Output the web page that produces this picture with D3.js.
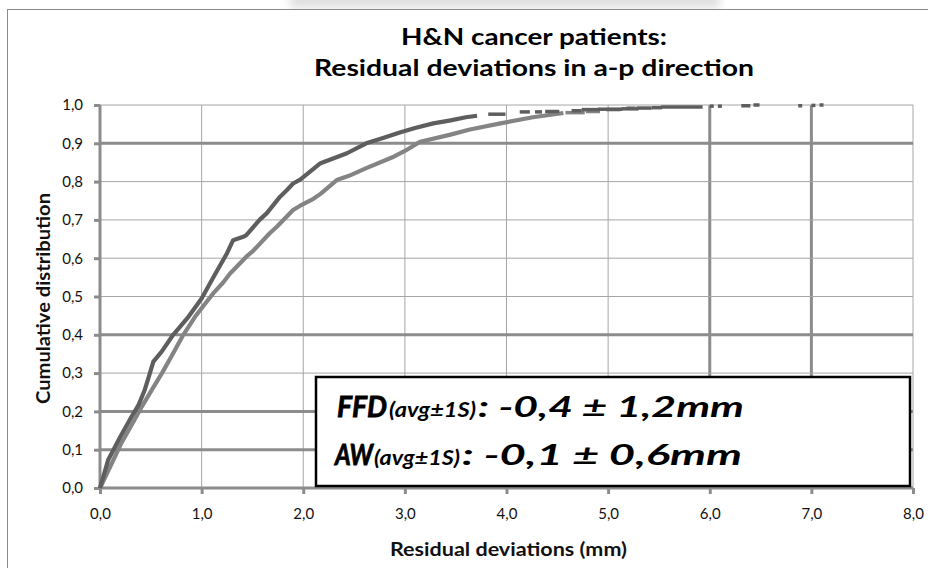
<!DOCTYPE html>
<html>
<head>
<meta charset="utf-8">
<script src="https://cdn.jsdelivr.net/npm/d3@7"></script>
<style>
  html, body { margin: 0; padding: 0; background: #fff; }
  svg { display: block; }
  text { font-family: Lato, "Open Sans", sans-serif; }
</style>
</head>
<body>
<svg id="chart" width="928" height="568"></svg>
<script>
// Cumulative distributions of residual deviations (mm), a-p direction.
// Lighter curve: FFD set-up; darker curve: AW set-up.
const ffdDev = [0, 0.115, 0.21, 0.34, 0.41, 0.51, 0.61, 0.72, 0.82, 0.935, 1.03, 1.12, 1.21, 1.28, 1.44, 1.51,
  1.67, 1.74, 1.9, 1.97, 2.1, 2.17, 2.33, 2.45, 2.62, 2.89, 3.0, 3.15, 3.44, 3.64, 3.94, 4.26, 4.56];
const ffdCum = [0, 0.064, 0.117, 0.178, 0.212, 0.256, 0.30, 0.352, 0.40, 0.447, 0.48, 0.51, 0.536, 0.56, 0.604, 0.62,
  0.665, 0.682, 0.726, 0.737, 0.755, 0.768, 0.804, 0.815, 0.835, 0.865, 0.88, 0.904, 0.922, 0.936, 0.952, 0.968, 0.979];
// sparse tail of the FFD curve: [from, to, cumulative]
const ffdTail = [[4.6, 4.75, 0.98], [4.8, 4.9, 0.983], [5.0, 5.1, 0.988], [5.2, 5.25, 0.992]];

const awDev = [0, 0.08, 0.2, 0.31, 0.38, 0.44, 0.48, 0.525, 0.607, 0.72, 0.87, 1.0, 1.12, 1.25, 1.31, 1.41, 1.44,
  1.57, 1.64, 1.77, 1.84, 1.9, 1.97, 2.17, 2.43, 2.62, 2.8, 2.95, 3.1, 3.28, 3.45, 3.6, 3.71];
const awCum = [0, 0.073, 0.134, 0.186, 0.217, 0.256, 0.29, 0.33, 0.356, 0.40, 0.447, 0.495, 0.552, 0.613, 0.647, 0.656, 0.66,
  0.70, 0.717, 0.76, 0.778, 0.795, 0.805, 0.848, 0.874, 0.90, 0.915, 0.928, 0.94, 0.952, 0.96, 0.968, 0.972];
const awTail = [[3.84, 3.97, 0.976], [4.15, 4.21, 0.982], [4.3, 4.33, 0.982], [4.4, 4.5, 0.983], [4.66, 4.72, 0.985],
  [4.76, 4.9, 0.988], [4.92, 5.12, 0.989], [5.15, 5.28, 0.99], [5.3, 5.41, 0.992], [5.45, 5.51, 0.993],
  [5.54, 5.91, 0.995], [6.02, 6.02, 0.997], [6.1, 6.1, 0.997], [6.33, 6.38, 0.998], [6.45, 6.47, 1.0],
  [6.89, 6.89, 0.998], [7.02, 7.02, 0.999], [7.1, 7.1, 1.0]];

const xTickValues = [0, 1, 2, 3, 4, 5, 6, 7, 8];
const yTickValues = [0, 0.1, 0.2, 0.3, 0.4, 0.5, 0.6, 0.7, 0.8, 0.9, 1.0];
const xHeavyGrid = [6, 7];
const yHeavyGrid = [0.1, 0.2, 0.4, 0.9];

const titleLines = ["H&N cancer patients:", "Residual deviations in a-p direction"];
const xTitle = "Residual deviations (mm)";
const yTitle = "Cumulative distribution";
const statNames = ["FFD", "AW"];
const statSubs = ["(avg±1S)", "(avg±1S)"];
const statValues = [" : -0,4 ± 1,2mm", " : -0,1 ± 0,6mm"];

const svg = d3.select("#chart");
const fmt = d3.formatLocale({ decimal: ",", thousands: ".", grouping: [3], currency: ["", ""] }).format(".1f");

const x = d3.scaleLinear().domain([0, 8]).range([100, 913]);
const y = d3.scaleLinear().domain([0, 1]).range([488, 105]);

// wide, slightly stretched lettering as in the slide template
function stretched(sel, width) {
  return sel.attr("textLength", width).attr("lengthAdjust", "spacingAndGlyphs");
}

// faint backdrop bleeding in at the very top
const defs = svg.append("defs");
defs.append("filter").attr("id", "haze").append("feGaussianBlur").attr("stdDeviation", 4);
svg.append("rect").attr("x", 290).attr("y", -10).attr("width", 430).attr("height", 18)
  .attr("fill", "#e0e0e0").attr("filter", "url(#haze)");
svg.append("rect").attr("x", 8).attr("y", 9).attr("width", 940).attr("height", 580)
  .attr("fill", "#fff");

// outer chart frame
svg.append("rect").attr("x", 7.5).attr("y", 9.5).attr("width", 940).attr("height", 580)
  .attr("fill", "none").attr("stroke", "#8a8a8a").attr("stroke-width", 1);

// gridlines
const grid = svg.append("g");
grid.selectAll("line.gx").data(xTickValues.filter(d => d > 0)).join("line")
  .attr("x1", d => x(d)).attr("x2", d => x(d)).attr("y1", y(1)).attr("y2", y(0))
  .attr("stroke", d => xHeavyGrid.includes(d) ? "#8c8c8c" : "#a6a6a6")
  .attr("stroke-width", d => xHeavyGrid.includes(d) ? 3 : 1);
grid.selectAll("line.gy").data(yTickValues.filter(d => d > 0)).join("line")
  .attr("x1", x(0)).attr("x2", x(8)).attr("y1", d => y(d)).attr("y2", d => y(d))
  .attr("stroke", d => yHeavyGrid.includes(d) ? "#8c8c8c" : "#a6a6a6")
  .attr("stroke-width", d => yHeavyGrid.includes(d) ? 3 : 1);

// axes
const xAxis = svg.append("g").attr("transform", `translate(0,${y(0)})`)
  .call(d3.axisBottom(x).tickValues(xTickValues).tickFormat(fmt).tickSize(6).tickPadding(14));
const yAxis = svg.append("g").attr("transform", `translate(${x(0)},0)`)
  .call(d3.axisLeft(y).tickValues(yTickValues).tickFormat(fmt).tickSize(6).tickPadding(11));
[xAxis, yAxis].forEach(a => {
  a.select(".domain").remove();
  a.selectAll(".tick line").attr("stroke", "#8c8c8c").attr("stroke-width", 3);
  a.selectAll(".tick text").attr("font-size", 15).attr("fill", "#111");
});
svg.append("line").attr("x1", x(0)).attr("x2", x(8)).attr("y1", y(0)).attr("y2", y(0))
  .attr("stroke", "#8c8c8c").attr("stroke-width", 3);
svg.append("line").attr("x1", x(0)).attr("x2", x(0)).attr("y1", y(1)).attr("y2", y(0) + 1.5)
  .attr("stroke", "#8c8c8c").attr("stroke-width", 3);

// cumulative curves
const line = d3.line().x(d => x(d[0])).y(d => y(d[1]));
const series = [
  { dev: ffdDev, cum: ffdCum, tail: ffdTail, color: "#848484" },
  { dev: awDev, cum: awCum, tail: awTail, color: "#5e5e5e" }
];
series.forEach(s => {
  const pts = s.dev.map((d, i) => [d, s.cum[i]]);
  svg.append("path").datum(pts).attr("d", line)
    .attr("fill", "none").attr("stroke", s.color).attr("stroke-width", 4.2)
    .attr("stroke-linejoin", "round");
  svg.append("g").selectAll("line").data(s.tail).join("line")
    .attr("x1", d => x(d[0]) - 2).attr("x2", d => x(d[1]) + 2)
    .attr("y1", d => y(d[2])).attr("y2", d => y(d[2]))
    .attr("stroke", s.color).attr("stroke-width", 3.5);
});

// title
const titleWidths = [266, 440];
svg.append("g").attr("font-weight", "bold").attr("font-size", 22).attr("fill", "#000")
  .selectAll("text").data(titleLines).join("text")
  .attr("x", (d, i) => 534 - titleWidths[i] / 2).attr("y", (d, i) => 45 + i * 31)
  .text(d => d)
  .each(function (d, i) { stretched(d3.select(this), titleWidths[i]); });

// axis titles
stretched(svg.append("text").attr("x", 390).attr("y", 556)
  .attr("font-weight", "bold").attr("font-size", 18).attr("fill", "#111").text(xTitle), 237);
stretched(svg.append("text").attr("transform", `translate(50,404) rotate(-90)`)
  .attr("font-weight", "bold").attr("font-size", 18).attr("fill", "#111").text(yTitle), 211);

// statistics box
svg.append("rect").attr("x", 316).attr("y", 377).attr("width", 594).attr("height", 109)
  .attr("fill", "#fff").attr("stroke", "#000").attr("stroke-width", 2.5);
const stat = svg.append("g").attr("font-weight", "bold").attr("font-style", "italic").attr("fill", "#000");
const statLayout = [
  { base: 417, nameX: 337, nameW: 50, subX: 389, subW: 87, valX: 478, valW: 266 },
  { base: 465, nameX: 335, nameW: 38, subX: 374, subW: 86, valX: 462, valW: 280 }
];
statLayout.forEach((p, i) => {
  stretched(stat.append("text").attr("x", p.nameX).attr("y", p.base).attr("font-size", 28)
    .attr("stroke", "#000").attr("stroke-width", 0.8).text(statNames[i]), p.nameW);
  stretched(stat.append("text").attr("x", p.subX).attr("y", p.base).attr("font-size", 21).text(statSubs[i]), p.subW);
  stretched(stat.append("text").attr("x", p.valX).attr("y", p.base).attr("font-size", 28).text(statValues[i]), p.valW);
});
</script>
</body>
</html>
